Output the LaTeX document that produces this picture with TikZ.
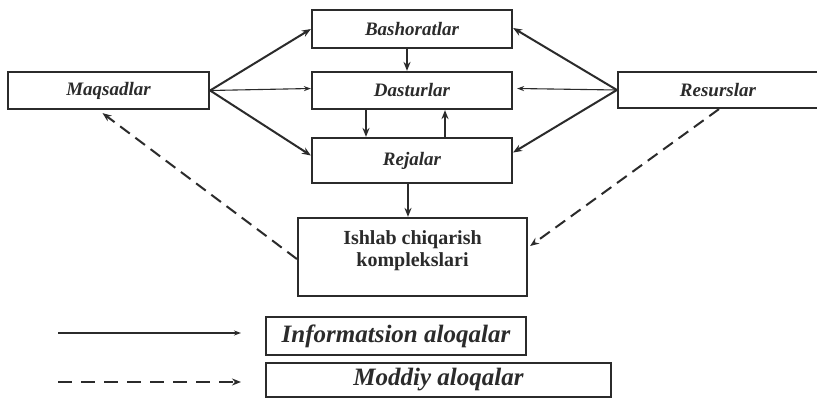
\documentclass[tikz,border=0pt]{standalone}
\usepackage{fontspec}
\setmainfont{Liberation Serif}
\usetikzlibrary{arrows.meta}
\definecolor{ink}{HTML}{2B2B2B}
\tikzset{
  box/.style={draw=ink, line width=2.2pt, rectangle, inner sep=0pt, text=ink},
  lbl/.style={font=\fontsize{19}{22}\selectfont\bfseries\itshape},
  conn/.style={draw=ink, line width=2pt, -{Stealth[length=9pt,width=7pt]}},
  thin/.style={draw=ink, line width=1.1pt, -{Stealth[length=7pt,width=5pt]}},
  mat/.style={draw=ink, line width=2pt, dash pattern=on 12pt off 7pt, -{Stealth[length=9pt,width=7pt]}}
}
\begin{document}
\begin{tikzpicture}[x=1pt,y=-1pt]
\useasboundingbox (0,0) rectangle (817,398);
\fill[white] (0,0) rectangle (817,398);
% main boxes
\node[box,lbl,minimum width=200pt,minimum height=38pt] (bash) at (412,29) {Bashoratlar};
\node[box,lbl,minimum width=200pt,minimum height=37pt] (dast) at (412,90.5) {Dasturlar};
\node[box,lbl,minimum width=200pt,minimum height=45pt] (rej) at (412,160.5) {Rejalar};
\node[box,lbl,minimum width=201pt,minimum height=37pt] (maq) at (108.5,90.5) {Maqsadlar};
\node[box,lbl,minimum width=200pt,minimum height=36pt] (res) at (718,90) {Resurslar};
\node[box,minimum width=229pt,minimum height=78pt] (ish) at (412.5,257) {};
\node[text=ink,font=\fontsize{20}{22}\selectfont\bfseries,align=center] (ishlbl) at (412.5,251) {Ishlab chiqarish\\komplekslari};
% legend boxes
\node[box,font=\fontsize{25}{28}\selectfont\bfseries\itshape,minimum width=260pt,minimum height=38pt] (info) at (396,336) {Informatsion aloqalar};
\node[box,font=\fontsize{25}{28}\selectfont\bfseries\itshape,minimum width=345pt,minimum height=34pt] (mod) at (438.5,380) {Moddiy aloqalar};
% information links
\draw[conn] (maq.east) -- (bash.west);
\draw[thin] (maq.east) -- ([yshift=2pt]dast.west);
\draw[conn] (maq.east) -- ([yshift=5pt]rej.west);
\draw[conn] (res.west) -- ([yshift=1pt]bash.east);
\draw[thin] (res.west) -- ([xshift=4pt,yshift=2pt]dast.east);
\draw[conn] (res.west) -- ([yshift=8pt]rej.east);
\draw[conn] ([xshift=-5pt]bash.south) -- ([xshift=-5pt]dast.north);
\draw[conn] ([xshift=-46pt]dast.south) -- ([xshift=-46pt]rej.north);
\draw[conn] ([xshift=33pt]rej.north) -- ([xshift=33pt]dast.south);
\draw[conn] ([xshift=-4pt]rej.south) -- ([xshift=-4.5pt]ish.north);
% material links
\draw[mat] ([yshift=-2pt]ish.west) -- ([xshift=-6pt,yshift=-3pt]maq.south);
\draw[mat] ([xshift=1pt]res.south) -- ([xshift=2pt,yshift=11pt]ish.east);
% legend lines
\coordinate (s1) at (58,333);
\coordinate (e1) at (241,333);
\coordinate (s2) at (58,382);
\coordinate (e2) at (241,382);
\draw[thin,line width=1.6pt] (s1) -- (e1);
\draw[mat,dash pattern=on 14pt off 9pt] (s2) -- (e2);
\end{tikzpicture}
\end{document}
